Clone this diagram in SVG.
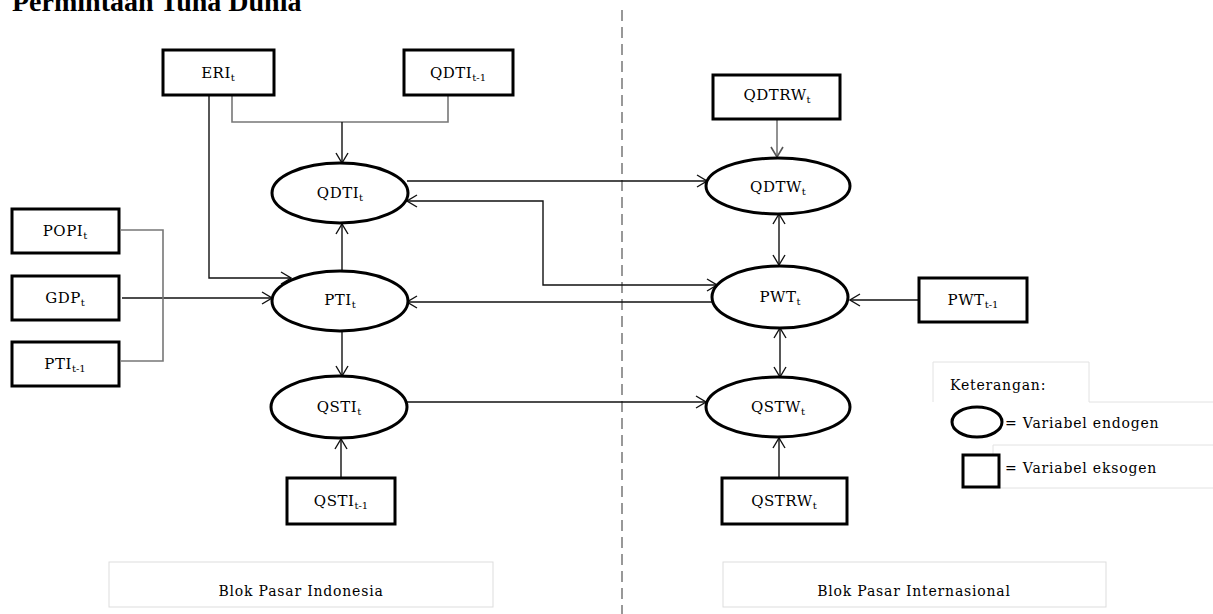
<svg xmlns="http://www.w3.org/2000/svg" width="1213" height="614" viewBox="0 0 1213 614">
<style>
text{font-family:"DejaVu Serif","Liberation Serif",serif;fill:#000}
.lbl{font-size:15px;text-anchor:middle;letter-spacing:0.5px}
.sub{font-size:10px;letter-spacing:0}
.small{font-size:14px;letter-spacing:0.8px}
.box{fill:#fff;stroke:#000;stroke-width:3}
.ell{fill:#fff;stroke:#000;stroke-width:3}
.ln{fill:none;stroke:#111;stroke-width:1.4}
.gl{fill:none;stroke:#777;stroke-width:1.6}
.faint{fill:#fff;stroke:#ddd;stroke-width:1}
</style>
<defs>
<marker id="ah" viewBox="0 0 12 14" refX="11" refY="7" markerWidth="12" markerHeight="14" markerUnits="userSpaceOnUse" orient="auto-start-reverse">
<path d="M1,1 L11,7 L1,13" fill="none" stroke="#111" stroke-width="1.4"/>
</marker>
<marker id="ahg" viewBox="0 0 12 14" refX="11" refY="7" markerWidth="12" markerHeight="14" markerUnits="userSpaceOnUse" orient="auto-start-reverse">
<path d="M1,1 L11,7 L1,13" fill="none" stroke="#555" stroke-width="1.6"/>
</marker>
</defs>
<rect width="1213" height="614" fill="#fff"/>
<text x="12" y="11" style="font-family:'Liberation Serif',serif;font-size:28px;font-weight:bold">Permintaan Tuna Dunia</text>
<line x1="622" y1="10" x2="622" y2="614" stroke="#777" stroke-width="1.5" stroke-dasharray="11,6"/>

<g id="connectors">
<path class="ln" d="M209,95 V278 H291" marker-end="url(#ah)"/>
<path class="gl" d="M232,95 V122 H448 V95"/>
<path class="ln" d="M342,122 V163" marker-end="url(#ah)" stroke="#444"/>
<path class="ln" d="M407,181 H707" marker-end="url(#ah)"/>
<path class="ln" d="M407,201 H543 V285 H717" marker-start="url(#ah)" marker-end="url(#ah)"/>
<path class="ln" d="M713,302 H407" marker-end="url(#ah)"/>
<path class="ln" d="M122,298 H272" marker-end="url(#ah)"/>
<path class="gl" d="M121,230 H163 V361 H121"/>
<path class="ln" d="M342,271 V224" marker-end="url(#ah)"/>
<path class="ln" d="M342,331 V376" marker-end="url(#ah)"/>
<path class="ln" d="M341,477 V439" marker-end="url(#ah)"/>
<path class="ln" d="M407,402 H706" marker-end="url(#ah)"/>
<path class="gl" d="M777,120 V157" marker-end="url(#ahg)"/>
<path class="ln" d="M779,214 V265" marker-start="url(#ah)" marker-end="url(#ah)"/>
<path class="ln" d="M780,328 V377" marker-start="url(#ah)" marker-end="url(#ah)"/>
<path class="ln" d="M918,300 H850" marker-end="url(#ah)"/>
<path class="ln" d="M779,477 V438" marker-end="url(#ah)"/>
</g>

<g id="ERI"><rect class="box" x="163" y="50" width="111" height="45"/><text class="lbl" x="218" y="78">ERI<tspan class="sub" dy="3">t</tspan></text></g>
<g id="QDTI_lag"><rect class="box" x="404" y="50" width="109" height="45"/><text class="lbl" x="458" y="78">QDTI<tspan class="sub" dy="3">t-1</tspan></text></g>
<g id="QDTI"><ellipse class="ell" cx="340" cy="193" rx="68" ry="30"/><text class="lbl" x="340" y="198">QDTI<tspan class="sub" dy="3">t</tspan></text></g>
<g id="PTI"><ellipse class="ell" cx="340" cy="301" rx="68" ry="30"/><text class="lbl" x="340" y="305">PTI<tspan class="sub" dy="3">t</tspan></text></g>
<g id="QSTI"><ellipse class="ell" cx="339" cy="407" rx="68" ry="31"/><text class="lbl" x="339" y="412">QSTI<tspan class="sub" dy="3">t</tspan></text></g>
<g id="POPI"><rect class="box" x="12" y="209" width="107" height="44"/><text class="lbl" x="65" y="236">POPI<tspan class="sub" dy="3">t</tspan></text></g>
<g id="GDP"><rect class="box" x="12" y="276" width="107" height="44"/><text class="lbl" x="65" y="303">GDP<tspan class="sub" dy="3">t</tspan></text></g>
<g id="PTI_lag"><rect class="box" x="12" y="342" width="107" height="44"/><text class="lbl" x="65" y="369">PTI<tspan class="sub" dy="3">t-1</tspan></text></g>
<g id="QSTI_lag"><rect class="box" x="287" y="478" width="108" height="46"/><text class="lbl" x="341" y="506">QSTI<tspan class="sub" dy="3">t-1</tspan></text></g>
<g id="QDTRW"><rect class="box" x="713" y="75" width="127" height="44"/><text class="lbl" x="777" y="100">QDTRW<tspan class="sub" dy="3">t</tspan></text></g>
<g id="QDTW"><ellipse class="ell" cx="778" cy="186" rx="72" ry="28"/><text class="lbl" x="778" y="192">QDTW<tspan class="sub" dy="3">t</tspan></text></g>
<g id="PWT"><ellipse class="ell" cx="780" cy="297" rx="68" ry="31"/><text class="lbl" x="780" y="302">PWT<tspan class="sub" dy="3">t</tspan></text></g>
<g id="PWT_lag"><rect class="box" x="919" y="278" width="108" height="44"/><text class="lbl" x="973" y="305">PWT<tspan class="sub" dy="3">t-1</tspan></text></g>
<g id="QSTW"><ellipse class="ell" cx="778" cy="407" rx="72" ry="30"/><text class="lbl" x="778" y="412">QSTW<tspan class="sub" dy="3">t</tspan></text></g>
<g id="QSTRW"><rect class="box" x="722" y="478" width="125" height="46"/><text class="lbl" x="784" y="506">QSTRW<tspan class="sub" dy="3">t</tspan></text></g>

<g id="legend">
<path d="M933,402 V362 H1089 V402 H1213 M993,445 H1213 M993,445 V488 H1213" fill="none" stroke="#e2e2e2" stroke-width="1"/>
<text class="small" x="950" y="390">Keterangan:</text>
<ellipse cx="977" cy="422" rx="25" ry="15" fill="#fff" stroke="#000" stroke-width="3"/>
<text class="small" x="1005" y="428">= Variabel endogen</text>
<rect x="963" y="455" width="36" height="32" fill="#fff" stroke="#000" stroke-width="3"/>
<text class="small" x="1005" y="473">= Variabel eksogen</text>
</g>

<g id="blok_indonesia"><rect class="faint" x="109" y="562" width="384" height="45"/><text class="small" x="301" y="596" text-anchor="middle">Blok Pasar Indonesia</text></g>
<g id="blok_internasional"><rect class="faint" x="723" y="562" width="383" height="45"/><text class="small" x="914" y="596" text-anchor="middle">Blok Pasar Internasional</text></g>
</svg>
